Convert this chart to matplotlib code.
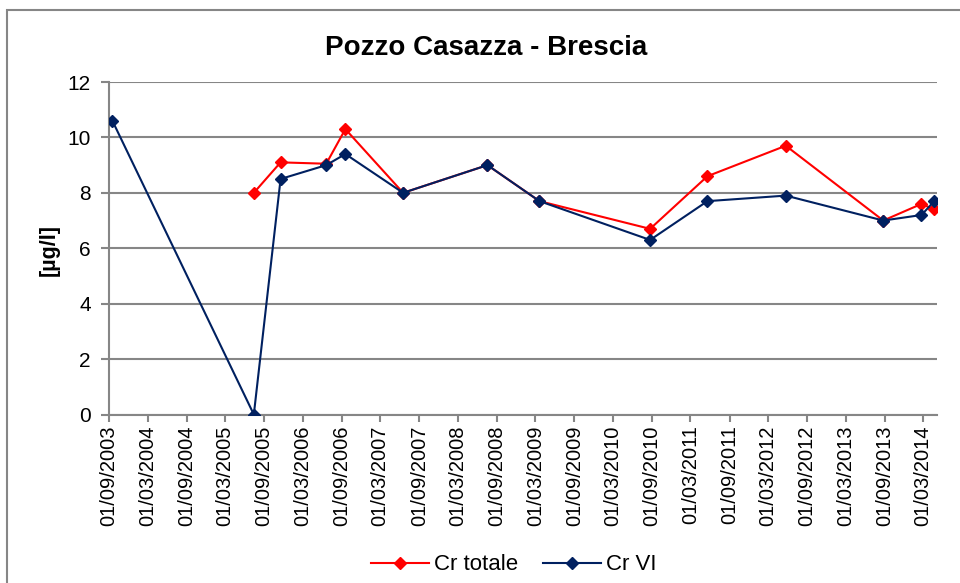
import matplotlib
matplotlib.use('Agg')
import matplotlib.pyplot as plt
from matplotlib.patches import Rectangle
from datetime import datetime

plt.rcParams['font.family'] = ['Liberation Sans', 'DejaVu Sans']

# dati
date_vi = ['2003-09-17', '2005-07-14', '2005-11-17', '2006-06-20', '2006-09-18',
           '2007-06-17', '2008-07-18', '2009-03-20', '2010-08-23', '2011-05-20',
           '2012-05-23', '2013-08-25', '2014-02-21', '2014-04-22']
cr_vi = [10.6, 0.0, 8.5, 9.0, 9.4, 8.0, 9.0, 7.7, 6.3, 7.7, 7.9, 7.0, 7.2, 7.7]

date_tot = date_vi[1:]
cr_totale = [8.0, 9.1, 9.05, 10.3, 8.0, 9.0, 7.7, 6.7, 8.6, 9.7, 7.0, 7.6, 7.4]

tick_dates = ['01/09/2003', '01/03/2004', '01/09/2004', '01/03/2005', '01/09/2005',
              '01/03/2006', '01/09/2006', '01/03/2007', '01/09/2007', '01/03/2008',
              '01/09/2008', '01/03/2009', '01/09/2009', '01/03/2010', '01/09/2010',
              '01/03/2011', '01/09/2011', '01/03/2012', '01/09/2012', '01/03/2013',
              '01/09/2013', '01/03/2014']

x_vi = [datetime.strptime(d, '%Y-%m-%d') for d in date_vi]
x_tot = [datetime.strptime(d, '%Y-%m-%d') for d in date_tot]
x_ticks = [datetime.strptime(d, '%d/%m/%Y') for d in tick_dates]

grigio = '#868686'
rosso = '#FF0000'
blu = '#002060'

fig = plt.figure(figsize=(9.6, 5.83), dpi=100)
ax = fig.add_axes([109/960, 1-414.5/583, (937-109)/960, (414.5-82)/583])

ax.plot(x_tot, cr_totale, color=rosso, lw=1.5, marker='D', ms=6.5, label='Cr totale', zorder=3)
ax.plot(x_vi, cr_vi, color=blu, lw=1.5, marker='D', ms=6.5, label='Cr VI', zorder=4)

ax.set_ylim(0, 12)
ax.set_yticks(range(0, 13, 2))
ax.set_xlim(x_ticks[0], datetime(2014, 5, 5))
ax.set_xticks(x_ticks)
ax.set_xticklabels(tick_dates, rotation=90)

ax.grid(axis='y', color=grigio, lw=1.5)
ax.set_axisbelow(True)
for s in ['top', 'right']:
    ax.spines[s].set_visible(False)
for s in ['left', 'bottom']:
    ax.spines[s].set_color(grigio)
    ax.spines[s].set_linewidth(1.5)
ax.tick_params(axis='y', direction='out', length=6, width=1.5, color=grigio, labelsize=15, pad=7)
ax.tick_params(axis='x', direction='out', length=5, width=1.5, color=grigio, labelsize=14.5, pad=3)

fig.text(486/960, 1-55/583, 'Pozzo Casazza - Brescia', ha='center', va='baseline',
         fontsize=20, fontweight='bold')
fig.text(49/960, 1-250/583, '[µg/l]', rotation=90, ha='center', va='center',
         fontsize=15.5, fontweight='bold')

fig.legend(loc='center', bbox_to_anchor=(514/960, 1-565/583), ncol=2, frameon=False,
           fontsize=16, handlelength=2.6, handletextpad=0.25, columnspacing=1.1)

# cornice del grafico
fig.patches.append(Rectangle((7/960, -0.05), 1.1, 1-10/583+0.05, transform=fig.transFigure,
                             fill=False, edgecolor=grigio, lw=1.5))

fig.savefig('out.png', dpi=100)
